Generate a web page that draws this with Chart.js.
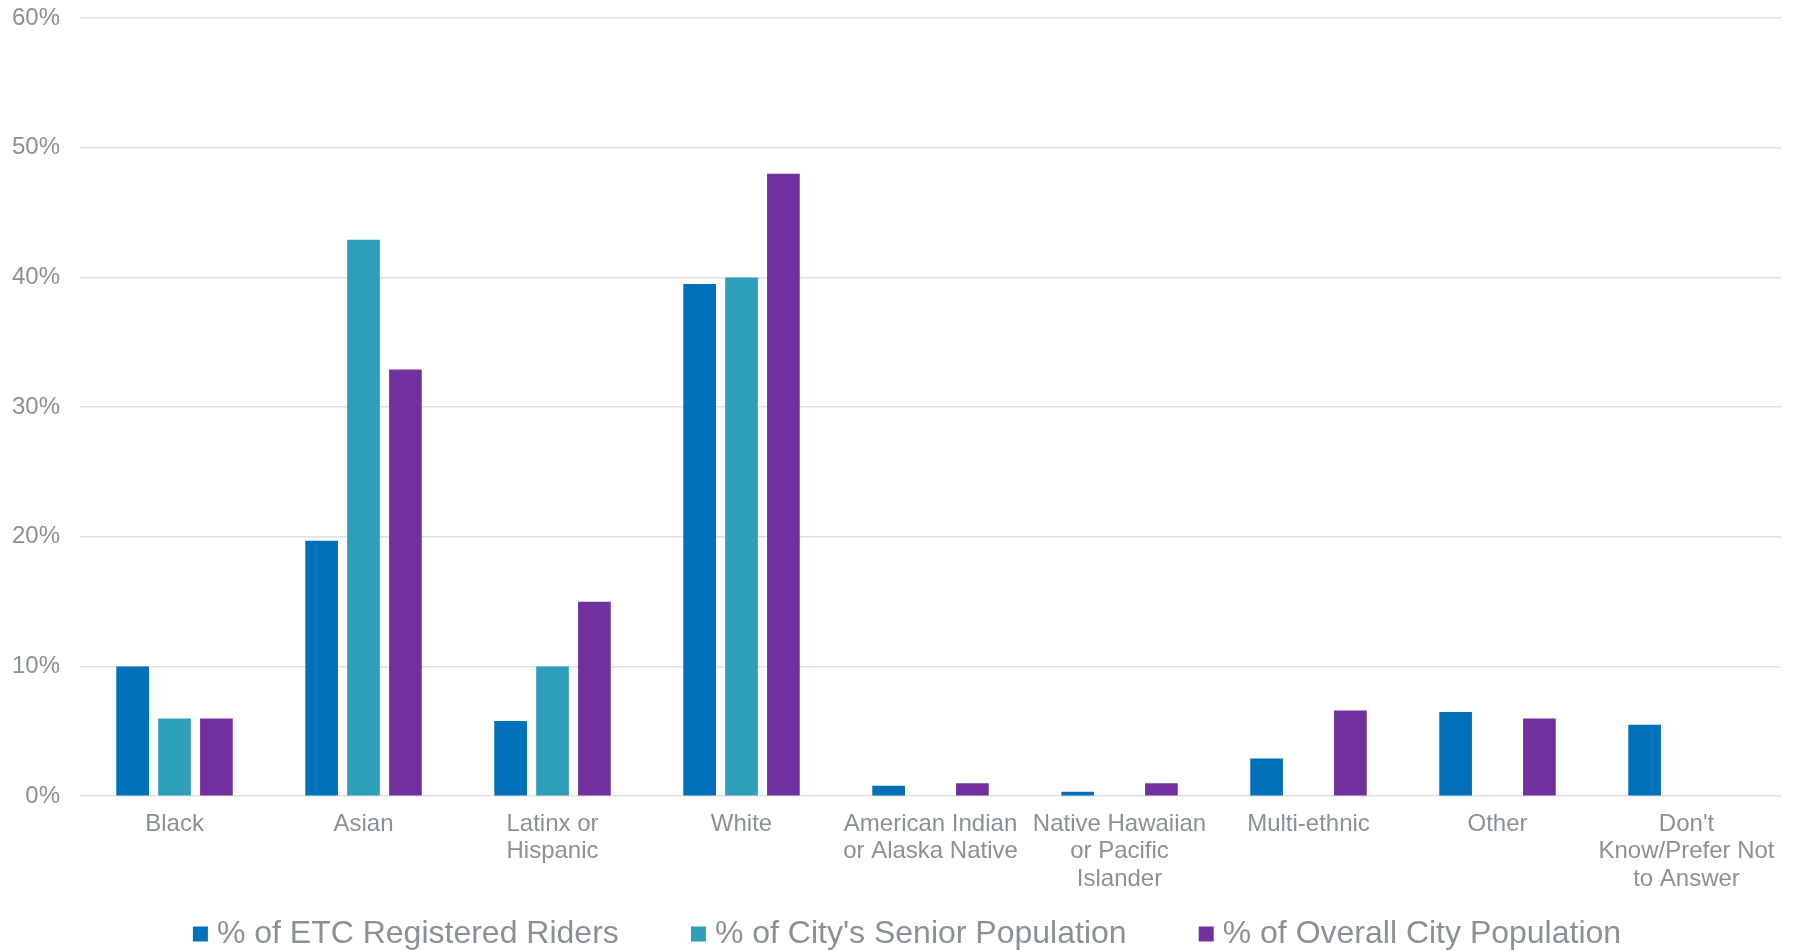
<!DOCTYPE html>
<html>
<head>
<meta charset="utf-8">
<script src="https://cdn.jsdelivr.net/npm/chart.js@4"></script>
<style>
  html, body { margin: 0; padding: 0; background: #ffffff; }
  #wrap { width: 1799px; height: 951px; }
</style>
</head>
<body>
<div id="wrap"><canvas id="c" width="1799" height="951"></canvas></div>
<script>
const categories = [
  ["Black"],
  ["Asian"],
  ["Latinx or", "Hispanic"],
  ["White"],
  ["American Indian", "or Alaska Native"],
  ["Native Hawaiian", "or Pacific", "Islander"],
  ["Multi-ethnic"],
  ["Other"],
  ["Don't", "Know/Prefer Not", "to Answer"]
];
const seriesNames = [
  "% of ETC Registered Riders",
  "% of City's Senior Population",
  "% of Overall City Population"
];
const etcRiders     = [10.0, 19.7, 5.8, 39.5, 0.8, 0.35, 2.9, 6.5, 5.5];
const seniorPop     = [6.0, 42.9, 10.0, 40.0, null, null, null, null, null];
const overallPop    = [6.0, 32.9, 15.0, 48.0, 1.0, 1.0, 6.6, 6.0, null];
const yTicks = [0, 10, 20, 30, 40, 50, 60];

const textColor = "#8A9194";
const fontFam = "'Liberation Sans', Arial, sans-serif";
const colors = ["#0070B8", "#2E9FBA", "#70309E"];
const legendGap = "\u00A0\u00A0\u00A0\u00A0\u00A0\u00A0\u00A0\u00A0";

const legendShift = {
  id: "legendShift",
  afterLayout(chart) {
    if (chart.legend) { chart.legend.left += 24; chart.legend.right += 24; }
  }
};

new Chart(document.getElementById("c"), {
  type: "bar",
  data: {
    labels: categories,
    datasets: [
      { label: seriesNames[0], data: etcRiders, backgroundColor: colors[0] },
      { label: seriesNames[1], data: seniorPop, backgroundColor: colors[1] },
      { label: seriesNames[2], data: overallPop, backgroundColor: colors[2] }
    ]
  },
  plugins: [legendShift],
  options: {
    responsive: false,
    devicePixelRatio: 1,
    animation: false,
    layout: { padding: { left: -8, right: 18, top: 18, bottom: -9 } },
    datasets: { bar: { categoryPercentage: 0.665, barPercentage: 0.78 } },
    scales: {
      x: {
        grid: { display: false, drawTicks: false },
        border: { display: false },
        afterFit: (scale) => { scale.height += 3; },
        ticks: {
          color: textColor,
          font: { family: fontFam, size: 24, lineHeight: 1.15 },
          padding: 14,
          maxRotation: 0,
          autoSkip: false
        }
      },
      y: {
        min: 0,
        max: 60,
        afterBuildTicks: (axis) => { axis.ticks = yTicks.map(v => ({ value: v })); },
        afterFit: (scale) => { scale.paddingTop = 0; },
        grid: { color: "#E0E0E0", lineWidth: 1.5, drawTicks: false },
        border: { display: false },
        ticks: {
          color: textColor,
          font: { family: fontFam, size: 24 },
          padding: 20,
          callback: (v) => v + "%"
        }
      }
    },
    plugins: {
      tooltip: { enabled: false },
      legend: {
        position: "bottom",
        labels: {
          color: textColor,
          font: { family: fontFam, size: 32 },
          usePointStyle: true,
          pointStyle: "rect",
          boxWidth: 1,
          boxHeight: 15,
          padding: 8,
          generateLabels: (chart) => chart.data.datasets.map((ds, i) => ({
            text: ds.label + (i < chart.data.datasets.length - 1 ? legendGap : ""),
            fillStyle: ds.backgroundColor,
            strokeStyle: ds.backgroundColor,
            lineWidth: 0,
            pointStyle: "rect",
            fontColor: textColor,
            hidden: false,
            datasetIndex: i
          }))
        }
      }
    }
  }
});
</script>
</body>
</html>
